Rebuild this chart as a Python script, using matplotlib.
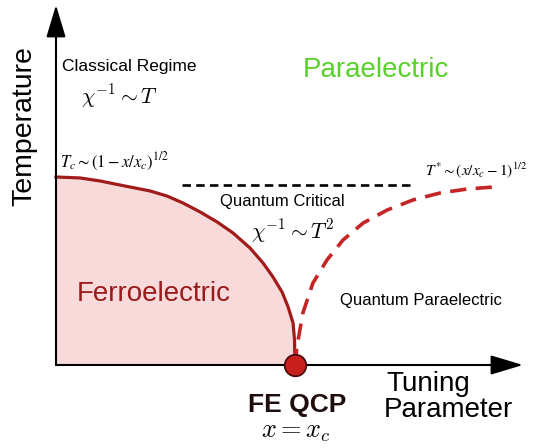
import matplotlib
matplotlib.use("Agg")
import matplotlib.pyplot as plt

plt.rcParams['font.family'] = ['Liberation Sans', 'DejaVu Sans']
plt.rcParams['mathtext.fontset'] = 'cm'

# ferroelectric phase boundary Tc(x), x in units of xc, T in units of Tc(0)
x_fe = [0.0, 0.100, 0.184, 0.289, 0.393, 0.464, 0.531, 0.603, 0.674, 0.741,
        0.812, 0.866, 0.908, 0.946, 0.971, 0.992, 0.998, 1.0]
t_fe = [1.0, 0.995, 0.979, 0.952, 0.926, 0.899, 0.862, 0.814, 0.761, 0.702,
        0.622, 0.543, 0.468, 0.388, 0.309, 0.223, 0.133, 0.0]

# crossover T*(x) into the quantum paraelectric
x_qp = [1.0, 1.008, 1.033, 1.075, 1.134, 1.201, 1.285, 1.385, 1.494, 1.607, 1.720, 1.833]
t_qp = [0.0, 0.096, 0.277, 0.436, 0.559, 0.665, 0.755, 0.824, 0.878, 0.915, 0.936, 0.947]

# upper edge of the quantum critical fan
x_qc = [0.527, 1.490]
t_qc = [0.957, 0.957]

x_c = 1.0

W, H = 533, 448
fig = plt.figure(figsize=(W / 100, H / 100), dpi=100)
ax = fig.add_axes([0, 0, 1, 1])
ax.set_xlim(-0.2343, 1.9958)
ax.set_ylim(-0.4415, 1.9415)
ax.axis('off')


def px(x, y):
    return x / W, 1 - y / H


ax.fill_between(x_fe, 0, t_fe, color='#f9dadb', lw=0, zorder=1)
ax.plot(x_fe, t_fe, color='#a11b1b', lw=2.3, zorder=3, solid_joinstyle='round')
ax.plot(x_qp, t_qp, color='#c62526', lw=2.6, ls=(0, (4.5, 2.6)), zorder=3)
ax.plot(x_qc, t_qc, color='black', lw=1.9, ls=(0, (3.2, 2.0)), zorder=3)

# axes with arrow heads
arrow = dict(arrowstyle='-|>,head_length=1.0,head_width=0.3', mutation_scale=20,
             lw=1.5, color='black', shrinkA=0, shrinkB=0)
ax.annotate('', xy=(0, 1.915), xytext=(0, 0), arrowprops=arrow, zorder=4)
ax.annotate('', xy=(1.954, 0), xytext=(0, 0), arrowprops=arrow, zorder=4)

ax.plot([x_c], [0], 'o', ms=15.5, mfc='#c9201d', mec='#4a0c0c', mew=1.3, zorder=5)

fig.text(*px(24, 126), 'Temperature', fontsize=20.5, rotation=90, ha='center', va='center')
fig.text(*px(62, 66), 'Classical Regime', fontsize=12.5, ha='left', va='center')
fig.text(*px(119, 96), r'$\chi^{-1} \sim T$', fontsize=15.5, ha='center', va='center')
fig.text(*px(376, 70), 'Paraelectric', fontsize=20, color='#58d22a', ha='center', va='center')
fig.text(*px(60, 162), r'$T_c \sim (1 - x/x_c)^{1/2}$', fontsize=12, ha='left', va='center',
         math_fontfamily='stix')
fig.text(*px(476, 170), r'$T^{*} \sim (x/x_c - 1)^{1/2}$', fontsize=11, ha='center', va='center',
         math_fontfamily='stix')
fig.text(*px(282, 201), 'Quantum Critical', fontsize=12, ha='center', va='center')
fig.text(*px(293, 231), r'$\chi^{-1} \sim T^2$', fontsize=15.5, ha='center', va='center')
fig.text(*px(154, 294), 'Ferroelectric', fontsize=20, color='#9a1b1b', ha='center', va='center')
fig.text(*px(421, 301), 'Quantum Paraelectric', fontsize=12, ha='center', va='center')
fig.text(*px(297, 405), 'FE QCP', fontsize=19, fontweight='bold', color='#1f0d0d',
         ha='center', va='center')
fig.text(*px(296, 432), r'$x = x_c$', fontsize=19, ha='center', va='center')
fig.text(*px(386, 384), 'Tuning', fontsize=20, ha='left', va='center')
fig.text(*px(384, 410), 'Parameter', fontsize=20, ha='left', va='center')

fig.savefig('out.png', dpi=100)
